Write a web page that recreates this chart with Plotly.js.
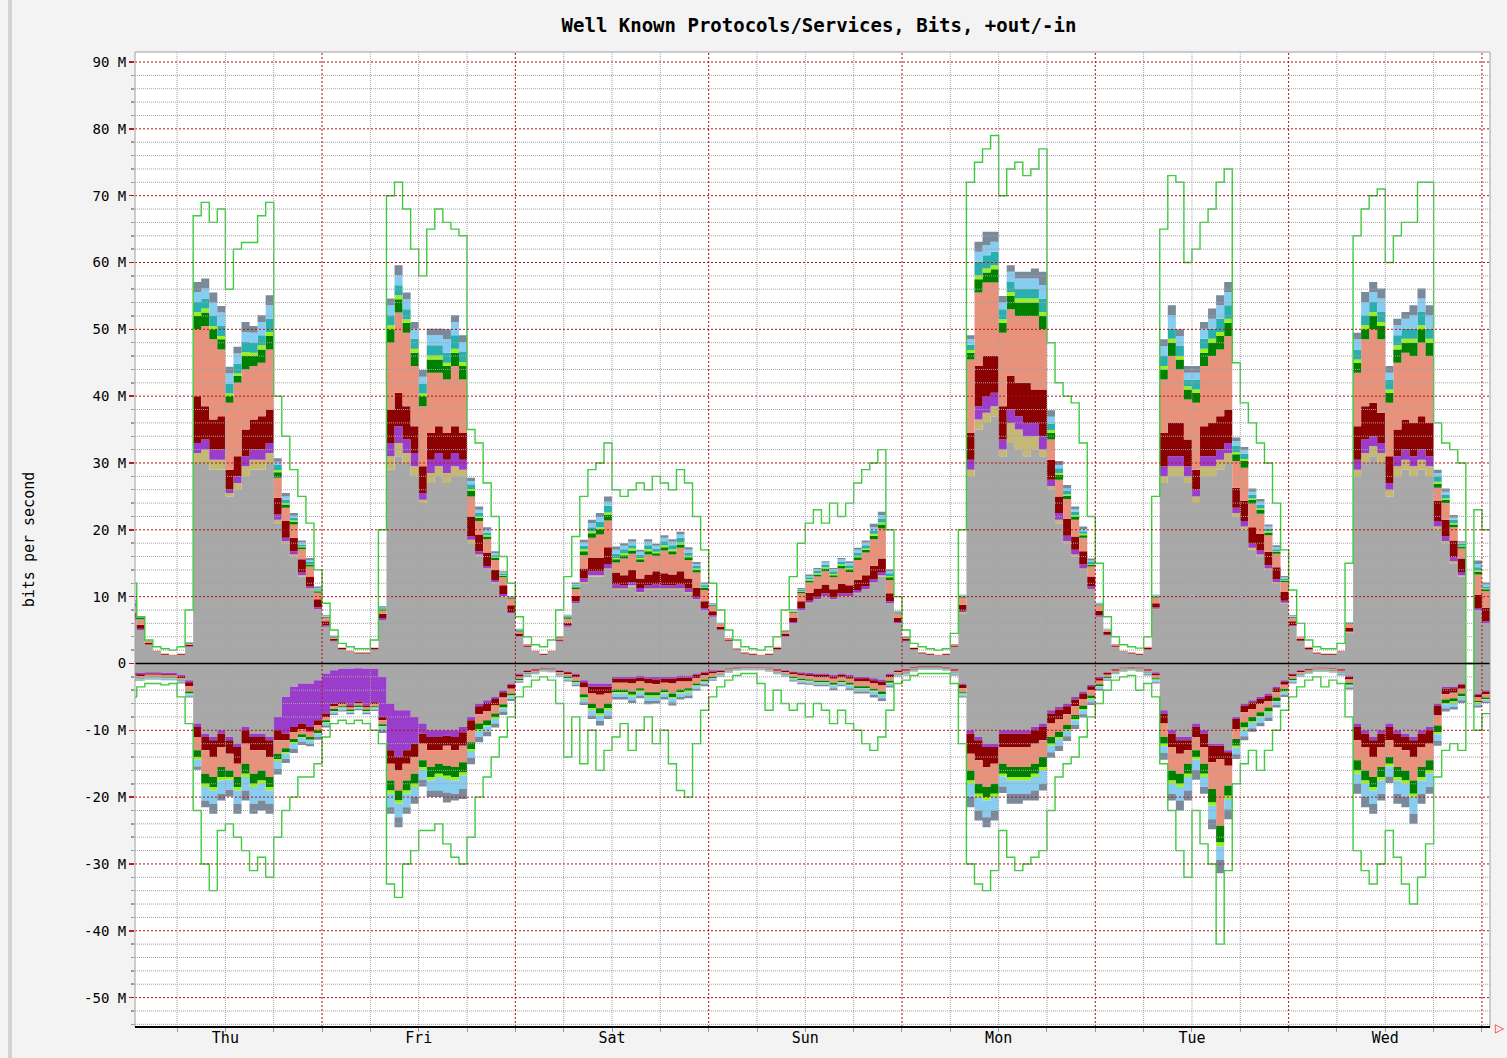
<!DOCTYPE html>
<html>
<head>
<meta charset="utf-8">
<script src="https://cdn.plot.ly/plotly-3.0.1.min.js"></script>
<style>
html,body{margin:0;padding:0;background:#f3f3f3;}
#chart{width:1507px;height:1058px;}
</style>
</head>
<body>
<div id="chart"></div>
<script>
// time axis: hours since Thursday 00:00, one sample per hour
const hours = Array.from({length: 170}, (_, i) => i);
const dayLabels = ['Thu','Fri','Sat','Sun','Mon','Tue','Wed'];
const noonTicks = [12,36,60,84,108,132,156];
const yTickVals = [-50,-40,-30,-20,-10,0,10,20,30,40,50,60,70,80,90];
const yTickText = ['-50 M','-40 M','-30 M','-20 M','-10 M','0','10 M','20 M','30 M','40 M','50 M','60 M','70 M','80 M','90 M'];

// ---- outbound (+) layers, Mbit/s ----
const outGray = [
6.5,5,2.8,1.7,1.3,1.1,1.3,2.5, 30,30,29,29,25,26,28,29,29,30, 21,18,16,13,11,8,
5.5,3.3,2.1,1.7,1.5,1.5,2.1,6.5, 29,31,30,28,24,27,28,27,28,28, 18,16,14,12,10,7.5,
4,2.5,1.7,1.3,1.7,3.3,5.5,9, 12,13,13,14,11,11,11.5,10.5,11,11, 11,11,11,10.5,9.5,8,
7,5,3.4,2.1,1.5,1.3,1.1,1.3, 2.1,4,6,8,9,9.5,10,9.5,10,10, 10.5,11,12,13,9,6,
3.3,2.1,1.5,1.3,1.1,1.3,2.5,7.5, 28,35,36,37,31,33,32,31,32,31, 26,21,18,16,14,11,
7,4.2,2.5,1.7,1.5,1.3,2.1,8, 27,28,28,27,24,28,28,29,30,22, 20,17,16,14,12,9,
5.6,3.4,2.1,1.5,1.3,1.3,1.7,4.6, 28,30,31,30,25,28,29,28,29,28, 20,18,15,13,0,8,
6,6];
const outKhaki = [
0,0,0,0,0,0,0,0, 1.5,2,1.5,1.5,.5,1,1.5,1.5,1.5,1.5, .5,.3,.3,.2,.2,.1,
0,0,0,0,0,0,0,0, 2,2,1.5,1.5,.5,1.5,1.5,1.5,1.5,1, .5,.3,.2,.2,.1,0,
0,0,0,0,0,0,0,0, .2,.2,.2,.2,.2,.2,.2,.2,.2,.2, .2,.2,.2,.2,.1,0,
0,0,0,0,0,0,0,0, 0,0,0,0,.1,.1,.1,.1,.1,.1, .1,.1,.1,.2,0,0,
0,0,0,0,0,0,0,.2, 1,1.5,1.5,1.5,1,3,3,3,2,1, .5,.5,.3,.3,.2,.1,
0,0,0,0,0,0,0,.2, 1,1.5,1.5,1,1,1.5,1.5,1.5,1.5,.5, .5,.3,.3,.2,.2,.1,
0,0,0,0,0,0,0,.1, 1,1.5,1.5,1.5,1,1.5,1.5,1.5,1.5,1.5, .5,.3,.3,.2,0,0,
0,0];
const outPurple = [
.3,.2,.05,0,0,0,0,.1, 1.5,1.5,1.5,1.5,.5,1,1.5,1.5,1.5,1.5, .8,.5,.5,.4,.3,.3,
.2,.1,0,0,0,0,0,.3, 2,2.5,2,2,1,2,2,2,2,1.5, .5,.5,.4,.3,.3,.2,
.1,0,0,0,0,.1,.2,.3, .5,.6,.6,.7,.6,.5,.5,.6,.5,.6, .5,.5,.6,.5,.4,.3,
.2,.1,0,0,0,0,0,0, 0,.1,.2,.3,.3,.4,.4,.3,.4,.4, .4,.5,.5,.5,.3,.2,
.1,0,0,0,0,0,0,.2, 1.5,2,2.5,2,1.5,2,2,2,2,2, 1,1,.8,.7,.6,.4,
.2,.1,0,0,0,0,0,.2, 1.5,1.5,1.5,1.5,1,1.5,1.5,1.5,1.5,.8, .8,.6,.6,.5,.4,.3,
.1,0,0,0,0,0,0,.1, 1.5,2,1.5,1.5,1,1.5,1.5,1.5,1.5,1.5, .8,.7,.6,.5,0,.3,
.3,.3];
const outMaroon = [
.8,.6,.2,.1,.1,.1,.1,.2, 7,5,4.5,5,3,3,4,4.5,5,5, 2.5,2.5,2,2,1.5,1.2,
.6,.3,.2,.1,.1,.1,.2,.6, 5,5,5,4,4,4,4,4,4,4, 3,2.5,2,1.5,1.3,1,
.4,.2,.1,.1,.1,.2,.4,.8, 1.5,2,2,2.5,1.8,1.5,1.8,1.4,1.6,2, 1.8,1.6,2,1.5,1.3,1,
.6,.4,.2,.1,.1,.1,.1,.1, .2,.3,.6,1,1.2,1.2,1.3,1.2,1.4,1.2, 1.5,1.6,2,2,1.2,.6,
.3,.2,.1,.1,.1,.1,.2,.9, 4,6,6,5.5,5,5,5,6,5,7, 3,2.5,2.5,2,2,1.5,
.7,.4,.2,.1,.1,.1,.2,.6, 5,5,5,4,3,4.5,5,5,5,3, 3,2.5,2.5,2,1.8,1.3,
.6,.3,.2,.1,.1,.1,.1,.5, 5,5,5,4.5,4,4,4.5,5,5,5, 3,2.5,2.5,2,0,2,
2,2];
const outSalmon = [
1,.8,.3,.1,.1,.1,.1,.2, 10,12,12,10,10,11,9,8,8,9, 3,2,2,1.5,1.5,1,
.5,.2,.1,.1,.1,.1,.1,.5, 10,12,11,9,9,9,8,8,9,8, 3,2,2,1.5,1.2,1,
.3,.2,.1,.1,.1,.3,.6,1, 2,3,3.5,4,1.5,2.5,2.4,2.5,3,2.3, 3.4,3,3.5,2.8,2.3,1.7,
.8,.4,.2,.1,.1,.1,.1,.1, .2,.4,.8,1.2,1.5,1.8,2,1.8,2.3,2, 3,3.4,4,4.5,2,.7,
.2,.1,.1,.1,.1,.1,.2,1, 11,11,11,11,11,10,10,10,11,9, 3,2.5,3,2.5,2,1.5,
.8,.3,.2,.1,.1,.1,.2,.8, 8,10,8,6,10,9,10,10,11,4, 5,3.5,3,2.5,2,1.5,
.5,.3,.2,.1,.1,.1,.1,.6, 8,10,11,11,8,10,10,10,11,10, 2,2.5,2,1.5,0,3,
2.5,2];
const outGreen = [
.3,.2,.05,0,0,0,0,.05, 2,2,1.5,1.5,1,1,2,1.5,2,2, .8,.5,.4,.3,.3,.2,
.1,.1,0,0,0,0,0,.2, 2,2,1.5,2,1.5,2,2,2,2,2, .8,.5,.4,.3,.2,.1,
.1,0,0,0,0,.05,.2,.3, .6,.7,.8,.8,.5,.5,.5,.4,.5,.4, .5,.5,.5,.4,.4,.3,
.1,.05,0,0,0,0,0,0, 0,.05,.1,.2,.3,.3,.4,.3,.4,.4, .4,.4,.5,.6,.4,.1,
.05,0,0,0,0,0,0,.1, 1,2,1.5,2,1.5,2,2,2,2,2, 1,.7,.5,.5,.4,.3,
.1,.05,0,0,0,0,0,.1, 1.5,2,1.5,1.5,1.5,2,2,2,2,1, 1,.6,.6,.4,.3,.2,
.1,0,0,0,0,0,0,.1, 1.5,1.5,2,2,1.5,2,1.5,2,2,2, .6,.5,.4,.3,0,.4,
.3,.3];
const outLime = [
0,0,0,0,0,0,0,0, .6,.6,.5,.5,.4,.4,.6,.5,.6,.6, .3,.2,.2,.1,.1,.1,
0,0,0,0,0,0,0,.1, .6,.6,.5,.6,.4,.6,.6,.5,.6,.6, .3,.2,.2,.1,.1,0,
0,0,0,0,0,0,.1,.1, .3,.3,.3,.4,.2,.3,.3,.2,.3,.2, .3,.3,.3,.2,.2,.1,
0,0,0,0,0,0,0,0, 0,0,.1,.1,.2,.2,.2,.2,.2,.2, .2,.2,.3,.3,.2,0,
0,0,0,0,0,0,0,.1, .4,.6,.6,.6,.5,.6,.6,.6,.6,.6, .4,.3,.2,.2,.2,.1,
0,0,0,0,0,0,0,.1, .5,.6,.5,.5,.5,.6,.6,.6,.6,.3, .3,.2,.2,.2,.1,.1,
0,0,0,0,0,0,0,0, .5,.6,.6,.6,.5,.6,.6,.6,.6,.6, .3,.2,.2,.1,0,.2,
.1,.1];
const outTeal = [
.2,.1,0,0,0,0,0,.05, 1.5,1.5,1.5,1.5,1.5,1.5,1.5,1.5,1.5,2, .8,.5,.4,.3,.3,.2,
.1,.1,0,0,0,0,0,.2, 1.5,1.5,1.5,1.5,1.5,1.5,1.5,1.5,2,1.5, .7,.5,.4,.3,.2,.1,
.1,0,0,0,0,.05,.1,.2, .5,.6,.8,1,.6,.6,.5,.5,.6,.5, .6,.6,.7,.5,.4,.3,
.1,.05,0,0,0,0,0,0, 0,.05,.1,.2,.3,.4,.4,.4,.4,.4, .5,.5,.5,.6,.4,.1,
.05,0,0,0,0,0,0,.1, .8,2,2,2,1.5,1.5,1.5,1.5,1.5,2, 1,.7,.5,.5,.4,.3,
.1,.05,0,0,0,0,0,.1, 1.5,1.5,1.5,1,1.5,1.5,1.5,2,2,1, .8,.6,.6,.4,.3,.2,
.1,0,0,0,0,0,0,.05, 1.5,1.5,1.5,1.5,1.5,1.5,1.5,1.5,2,1.5, .8,.5,.5,.3,0,.5,
.3,.3];
const outSky = [
.2,.1,0,0,0,0,0,.05, 1.5,1.5,2,2,1.5,1.5,1.5,1.5,2,2, .5,.5,.3,.3,.3,.2,
.1,.05,0,0,0,0,0,.1, 1.5,1.5,1.5,1.5,1,1.5,1.5,2,2,1.5, .5,.5,.4,.3,.2,.1,
.1,0,0,0,0,.05,.1,.2, .5,.6,.7,.6,.6,.5,.5,.4,.5,.4, .5,.5,.5,.4,.3,.2,
.1,.05,0,0,0,0,0,0, 0,.05,.1,.1,.2,.2,.3,.3,.4,.3, .4,.4,.5,.5,.3,.1,
.05,0,0,0,0,0,0,.1, .8,1.5,1.5,1.5,1,1.5,1.5,1.5,1.5,2, 1,.5,.4,.4,.3,.2,
.1,.05,0,0,0,0,0,.1, 1.5,2,1.5,1,1,1.5,1.5,2,2,.7, .5,.4,.4,.3,.3,.2,
.1,0,0,0,0,0,0,.05, 1.5,2,1.5,2,1,1.5,1.5,2,2,2, .5,.5,.3,.2,0,.5,
.3,.3];
const outSlate = [
.2,.1,0,0,0,0,0,.05, 1.5,1.5,1.5,1,1,1,1.5,1,1,1.5, .5,.5,.4,.3,.3,.2,
.1,.05,0,0,0,0,0,.1, 1,1.5,1,1,1,1,1,1.5,1,1, .5,.5,.4,.3,.2,.1,
.1,0,0,0,0,.05,.1,.2, .4,.5,.6,.8,.5,.4,.4,.3,.4,.3, .4,.4,.4,.4,.3,.2,
.1,.05,0,0,0,0,0,0, 0,.05,.1,.2,.2,.2,.2,.2,.2,.3, .3,.3,.5,.5,.3,.1,
.05,0,0,0,0,0,0,.1, .6,1.5,2,1.5,1,1,1,1,1.5,2, 1,.6,.5,.4,.4,.3,
.1,.05,0,0,0,0,0,.1, 1,1.5,1,1,1,1,1.5,1.5,1.5,.5, .5,.5,.4,.3,.3,.2,
.1,0,0,0,0,0,0,.05, 1,1.5,1.5,1.5,1,1,1,1.5,1.5,1.5, .5,.5,.4,.2,0,.5,
.3,.3];
const outTotal = [
12,7,3.5,2.5,2.2,2,2.5,8, 67,69,66,68,56,62,63,63,67,69, 40,34,29,25,21,14,
9,5,3,2.5,2.2,2.2,3.5,20, 70,72,68,62,58,65,68,66,65,64, 35,33,27,22,16,12,
7,4,2.8,2.5,3.5,8,13,19, 25,29,30,33,26,25,26,27,26,28, 27,26,29,27,22,17,
12,8,5,3.5,2.5,2.2,2,2.5, 4,8,13,18,21,23,21,24,22,24, 27,29,30,32,20,10,
5,3,2.5,2.2,2,2.2,4.5,20, 72,75,77,79,70,74,75,73,74,77, 48,42,40,39,33,22,
15,7,4,2.8,2.5,2.3,4,25, 65,73,72,60,62,66,68,72,74,45, 39,36,33,30,24,17,
11,6,3.5,2.5,2.2,2.2,3,15, 64,68,70,71,60,64,66,66,72,72, 36,33,32,30,0,23,
20,20];

// ---- inbound (-) layers, Mbit/s (magnitudes) ----
const inGray = [
1.3,1.4,1.3,1.3,1.4,1.4,1.7,2.5, 9,10.5,11,10,11,12,9.5,10.5,10.5,11, 8,5,3.5,3,3,2.5,
1.5,1,.8,.8,.7,.8,.8,2, 6,7,7,8,9,10,10,10,10,9.5, 8,6,5.5,5,4,3,
1.5,1,.8,.6,.7,1,1.2,1.5, 2.5,3,3,3,2,2,2,1.8,2,2, 2,2,1.8,1.8,1.5,1.2,
1,1,.7,.5,.5,.5,.5,.6, .8,1,1.2,1.3,1.4,1.5,1.5,1.7,1.5,1.7, 2,2,2.2,2.4,1.5,1,
.8,.5,.4,.4,.4,.5,.8,3, 10,11,12,12,10,10,10,10,9.5,9, 7,6.5,6,5,4.2,3.2,
2,1.3,.8,.6,.5,.6,.8,1.3, 7,10,11,11,9,10,12,12,13,8, 6,5.5,5,4.5,3.5,2.5,
1.5,1,.8,.6,.6,.7,.8,1.8, 9,10,11,10,9,10,10.5,11,10,9.5, 6,3.5,3.5,3,0,4.5,
4,4];
const inPurple = [
.2,.2,.2,.2,.2,.2,.2,.3, .5,.5,.5,.5,.5,.5,.5,.5,.5,.5, 2,5.5,6,6,6.5,6,
6,5,5,5.5,5,5.5,5,6, 7,7,6,4,1.5,1,1,.8,1,.8, .5,.4,.4,.3,.3,.2,
.2,.1,.1,.1,.1,.1,.1,.2, .3,.5,.5,.5,.3,.3,.3,.3,.3,.4, .3,.3,.3,.3,.2,.2,
.2,.1,.1,.05,.05,.05,.05,.05, .1,.1,.1,.2,.2,.2,.2,.2,.2,.2, .2,.2,.3,.3,.2,.1,
.1,.1,.05,.05,.05,.05,.1,.2, .5,.5,.5,.5,.5,.5,.5,.5,.5,.5, .5,.4,.4,.4,.3,.2,
.2,.1,.1,.05,.05,.05,.1,.2, .5,.5,.5,.5,.5,.5,.3,.3,.3,.3, .3,.3,.3,.3,.2,.2,
.1,.1,.05,.05,.05,.05,.1,.2, .5,.5,.5,.5,.5,.5,.5,.5,.5,.5, .3,.3,.2,.2,0,.2,
.2,.2];
const inMaroon = [
.3,.3,.2,.2,.2,.2,.3,.6, 1.5,2,2.5,2,2,2.5,2,2,2,2.5, 1.5,1,.8,.8,.7,.7,
.5,.4,.3,.3,.3,.3,.3,.5, 2,2,2,2,1.5,2,2,1.5,2,2, 1.5,1.2,1.2,1,.8,.6,
.3,.2,.2,.1,.1,.2,.3,.4, .8,1,1.2,1,.6,.6,.7,.6,.7,.7, .6,.7,.6,.6,.5,.4,
.3,.2,.1,.1,.1,.1,.1,.1, .2,.2,.3,.3,.3,.4,.4,.4,.4,.4, .5,.5,.5,.6,.4,.2,
.2,.1,.1,.1,.1,.1,.2,.5, 3,3,3,2.5,2,2,2,2,2,2, 1.5,1.5,1.2,1,.8,.6,
.4,.3,.2,.1,.1,.1,.2,.3, 1.5,2,2,1.5,1.5,2,2.5,2,2,1.5, 1,1,.8,.8,.6,.5,
.3,.2,.2,.1,.1,.1,.2,.4, 2,2,2.5,2,2,2,2,2.5,2,2, 1.5,.8,.7,.6,0,.4,
.4,.4];
const inSalmon = [
.3,.3,.3,.3,.3,.3,.3,.8, 2,3.5,3,3,2.5,2,3,3.5,3,3, 2,1.2,1,.8,.8,.8,
.5,.4,.3,.3,.3,.3,.3,.6, 2.5,3,2.5,2.5,2.5,2.5,2,3,2.5,2.5, 1.8,1.4,1.4,1.2,1,.7,
.3,.2,.2,.1,.1,.3,.4,.5, 1,1.5,2,1.5,1,1,1.2,1,1.3,1.2, 1,1.5,1.2,1,.8,.6,
.5,.3,.2,.1,.1,.1,.1,.2, .2,.3,.4,.5,.5,.5,.5,.6,.5,.6, .7,.7,.8,.9,.5,.3,
.3,.2,.1,.1,.1,.1,.2,.6, 2.5,3.5,3,3,2.5,3,3,3,3,2.5, 2,1.8,1.6,1.3,1,.8,
.5,.3,.2,.2,.1,.2,.2,.4, 2,3.5,3,2,2,2.5,4,10,3,1.5, 1.5,1.2,1.2,1,.8,.6,
.4,.3,.2,.2,.2,.2,.2,.5, 3,3.5,3,3,2.5,3,3,3.5,3,2.5, 1.5,.8,.8,.7,0,.5,
.5,.5];
const inGreen = [
.1,.1,.1,.1,.1,.1,.1,.3, 1,1.5,1.5,1.5,1,1.5,1.5,1.5,1.5,1.5, .8,.6,.5,.4,.4,.4,
.3,.3,.2,.2,.2,.2,.2,.3, 1.5,1.5,1.5,1.5,1,1.5,1.5,1.5,1.5,1.5, 1,.8,.7,.6,.5,.3,
.2,.1,.1,.1,.1,.1,.2,.2, .5,.7,.8,.7,.4,.4,.5,.4,.5,.5, .4,.5,.4,.4,.3,.3,
.2,.1,.1,.1,.05,.05,.05,.05, .1,.1,.2,.2,.2,.2,.2,.3,.2,.3, .3,.3,.3,.4,.3,.1,
.1,.1,.1,.1,.1,.1,.1,.2, 1.5,1.5,1.5,1.5,1.5,1.5,1.5,1.5,1.5,1.5, 1,.8,.7,.6,.5,.4,
.3,.2,.1,.1,.1,.1,.1,.2, 1,1.5,1.5,1.5,1,1.5,2,2.5,1.5,1, .8,.7,.6,.6,.5,.4,
.2,.1,.1,.1,.1,.1,.1,.3, 1.5,1.5,1.5,1.5,1,1.5,1.5,2,1.5,1.5, 1,.5,.5,.4,0,.2,
.2,.2];
const inLime = [
0,0,0,0,0,0,0,.1, .4,.5,.5,.5,.4,.5,.5,.5,.5,.5, .3,.2,.2,.1,.1,.1,
.1,.1,.1,.1,.1,.1,.1,.1, .5,.5,.5,.5,.4,.5,.5,.5,.5,.5, .3,.3,.2,.2,.1,.1,
0,0,0,0,0,0,.1,.1, .2,.3,.3,.3,.2,.2,.2,.2,.2,.2, .2,.2,.2,.2,.1,.1,
0,0,0,0,0,0,0,0, 0,0,.1,.1,.1,.1,.1,.1,.1,.1, .1,.1,.1,.1,.1,0,
0,0,0,0,0,0,0,.1, .5,.5,.5,.5,.4,.5,.5,.5,.5,.5, .3,.3,.2,.2,.2,.1,
.1,0,0,0,0,0,0,.1, .4,.5,.5,.5,.4,.5,.5,.6,.5,.3, .3,.2,.2,.2,.1,.1,
0,0,0,0,0,0,0,.1, .5,.5,.5,.5,.4,.5,.5,.5,.5,.5, .3,.2,.2,.1,0,.1,
.1,.1];
const inSky = [
.2,.2,.2,.2,.2,.2,.2,.3, 1,2,2,2,1.5,2,2,2.5,2.5,2, 1.2,.8,.8,.6,.5,.5,
.4,.3,.3,.2,.2,.2,.2,.5, 2,2,2,1.5,1.5,1.5,2,2,2,2, 1,.9,.8,.7,.5,.4,
.2,.2,.1,.1,.1,.2,.2,.3, .5,.8,.8,.8,.5,.5,.6,.5,.6,.6, .5,.6,.5,.5,.4,.3,
.2,.2,.1,.1,.1,.1,.1,.1, .1,.2,.2,.3,.3,.3,.3,.4,.3,.4, .4,.4,.5,.5,.3,.2,
.2,.1,.1,.1,.1,.1,.2,.3, 2,2,2.5,2,1.5,2,2,2,2,2, 1,1,.8,.7,.6,.5,
.3,.2,.1,.1,.1,.1,.2,.3, 1,1.5,2,2,1.5,1.5,2,2,1.5,1, 1,.8,.8,.7,.5,.4,
.3,.2,.1,.1,.1,.1,.2,.3, 1.5,2,2,2,1.5,2,2,2.5,2,2, 1,.6,.6,.5,0,.4,
.3,.3];
const inSlate = [
.2,.1,.1,.1,.1,.1,.2,.2, .5,1,1.5,1,1,1.5,1.5,1.5,1.5,1.5, .8,.6,.6,.5,.4,.4,
.3,.2,.2,.2,.2,.2,.2,.4, 1,1.5,1,1,1,1,1,1.5,1,1.5, 1,.8,.7,.6,.5,.3,
.2,.2,.1,.1,.1,.1,.2,.2, .4,.5,.7,.5,.4,.4,.4,.4,.5,.4, .4,.5,.4,.4,.3,.3,
.2,.1,.1,.1,.1,.1,.1,.1, .1,.1,.2,.2,.2,.2,.2,.3,.2,.3, .3,.3,.4,.4,.3,.1,
.1,.1,.1,.1,.1,.1,.2,.2, 1.5,1.5,1.5,1.5,1,1.5,1.5,1,1.5,1, .8,.8,.7,.6,.5,.4,
.3,.2,.1,.1,.1,.1,.2,.2, 1,1,1.5,1.5,1.5,1,1.5,2,1.5,.7, .6,.5,.5,.5,.4,.3,
.2,.1,.1,.1,.1,.1,.2,.3, 1.5,1.5,1.5,1,1,1.5,1.5,1.5,1.5,1, .7,.5,.4,.4,0,.3,
.2,.2];
const inTotal = [
5,3.5,3,3,3.2,3,5,9, 22,30,34,25,24,26,28,31,29,32, 26,22,20,17,17,15,
11,9,8.5,9,8.5,9,10,12, 33,35,30,28,25,25,24,27,29,30, 26,20,17,14,11,8,
5,3.5,2.5,2,2.5,6,14,8, 15,10,16,13,11,9,13,10,8,12, 10,15,19,20,12,7,
5,3.5,2.5,1.8,1.5,1.5,3,7, 4,6,7,6,8,6,7,9,7,9, 10,12,13,11,7,3,
2.5,1.8,1.5,1.5,1.5,1.5,3,12, 30,33,34,31,25,29,31,30,29,28, 22,17,15,14,11,8,
6,4,2.5,2,1.8,4,3,5, 15,22,28,32,22,27,30,42,31,18, 15,13,16,13,10,7,
5,3.5,2.5,2,3.5,2.5,3,8, 28,31,33,30,25,29,33,36,32,27, 17,13,12,13,0,10,
7.5,7.5];

const outLayers = [
  [outGray,'#a8a8a8'],[outKhaki,'#c3b874'],[outPurple,'#9a3ccc'],[outMaroon,'#8b0000'],
  [outSalmon,'#e8927c'],[outGreen,'#008000'],[outLime,'#9cf01c'],[outTeal,'#2aafaf'],
  [outSky,'#87cdf2'],[outSlate,'#7b8a9a']
];
const inLayers = [
  [inGray,'#a8a8a8'],[inPurple,'#9a3ccc'],[inMaroon,'#8b0000'],[inSalmon,'#e8927c'],
  [inGreen,'#008000'],[inLime,'#9cf01c'],[inSky,'#87cdf2'],[inSlate,'#7b8a9a']
];

const traces = [];
outLayers.forEach(([arr, c]) => traces.push({
  x: hours, y: arr, type: 'scatter', mode: 'lines', stackgroup: 'out',
  line: {width: 0, shape: 'hv', color: c}, fillcolor: c, hoverinfo: 'skip'
}));
inLayers.forEach(([arr, c]) => traces.push({
  x: hours, y: arr.map(v => -v), type: 'scatter', mode: 'lines', stackgroup: 'in',
  line: {width: 0, shape: 'hv', color: c}, fillcolor: c, hoverinfo: 'skip'
}));
traces.push({x: hours, y: outTotal, type: 'scatter', mode: 'lines',
  line: {color: '#3dcc3d', width: 1.4, shape: 'hv'}, hoverinfo: 'skip'});
traces.push({x: hours, y: inTotal.map(v => -v), type: 'scatter', mode: 'lines',
  line: {color: '#3dcc3d', width: 1.4, shape: 'hv'}, hoverinfo: 'skip'});

// grid drawn on top of the areas, as in the original
const shapes = [];
const minorDash = '1px,1px', majorDash = '2px,2px';
const minorCol = '#a2a2a2', majorCol = '#b41010';
for (let v = -54; v <= 90; v += 2) {
  if (v === 0) continue;
  const major = (v % 10 === 0);
  shapes.push({type: 'line', xref: 'paper', yref: 'y', x0: 0, x1: 1, y0: v, y1: v, layer: 'above',
    line: {color: major ? majorCol : minorCol, width: 1, dash: major ? majorDash : minorDash}});
}
for (let h = 6; h <= 168; h += 6) {
  const major = (h % 24 === 0);
  shapes.push({type: 'line', xref: 'x', yref: 'paper', x0: h, x1: h, y0: 0, y1: 1, layer: 'above',
    line: {color: major ? majorCol : minorCol, width: 1, dash: major ? majorDash : minorDash}});
}
shapes.push({type: 'line', xref: 'paper', yref: 'y', x0: 0, x1: 1, y0: 0, y1: 0, layer: 'above',
  line: {color: '#000', width: 1.5}});
shapes.push({type: 'rect', xref: 'paper', yref: 'paper', x0: 0, x1: 1, y0: 0, y1: 1, layer: 'above',
  line: {color: '#a0a0a0', width: 1}, fillcolor: 'rgba(0,0,0,0)'});
shapes.push({type: 'line', xref: 'paper', yref: 'paper', x0: 0, x1: 1, y0: 0, y1: 0, layer: 'above',
  line: {color: '#000', width: 2}});
shapes.push({type: 'rect', xref: 'paper', yref: 'paper', x0: (8-135)/1355, x1: (12-135)/1355,
  y0: -31/975, y1: 1 + 52/975, layer: 'below', line: {width: 0}, fillcolor: '#d2d2d2'});

const mono = 'DejaVu Sans Mono, Liberation Mono, monospace';
const layout = {
  width: 1507, height: 1058,
  margin: {l: 135, r: 17, t: 52, b: 31},
  paper_bgcolor: '#f3f3f3', plot_bgcolor: '#ffffff',
  showlegend: false,
  title: {text: '<b>Well Known Protocols/Services, Bits, +out/-in</b>',
    font: {family: mono, size: 19, color: '#000'},
    x: (819-135)/1355, xref: 'paper', xanchor: 'center', y: 1 - 25/1058, yanchor: 'middle'},
  xaxis: {
    range: [0.78, 169.0], tickvals: noonTicks, ticktext: dayLabels, ticks: '',
    showgrid: false, zeroline: false, showline: false,
    tickfont: {family: mono, size: 15, color: '#000'},
    minor: {dtick: 6, tick0: 0, ticks: 'outside', ticklen: 4, tickcolor: '#999', showgrid: false}
  },
  yaxis: {
    range: [-54.4, 91.5], tickvals: yTickVals, ticktext: yTickText,
    ticks: 'outside', ticklen: 5, tickcolor: '#b02020', tickwidth: 1.5,
    showgrid: false, zeroline: false, showline: false,
    tickfont: {family: mono, size: 14, color: '#000'},
    minor: {dtick: 2, ticks: 'outside', ticklen: 3, tickcolor: '#999', showgrid: false},
    title: {text: 'bits per second', font: {family: mono, size: 15, color: '#000'}, standoff: 45}
  },
  shapes: shapes,
  annotations: [{xref: 'paper', yref: 'paper', x: (1500-135)/1355, y: 0, text: '▷',
    showarrow: false, font: {color: '#ff2020', size: 12}, xanchor: 'center', yanchor: 'middle'}]
};

Plotly.newPlot('chart', traces, layout, {displayModeBar: false, staticPlot: true});
</script>
</body>
</html>
